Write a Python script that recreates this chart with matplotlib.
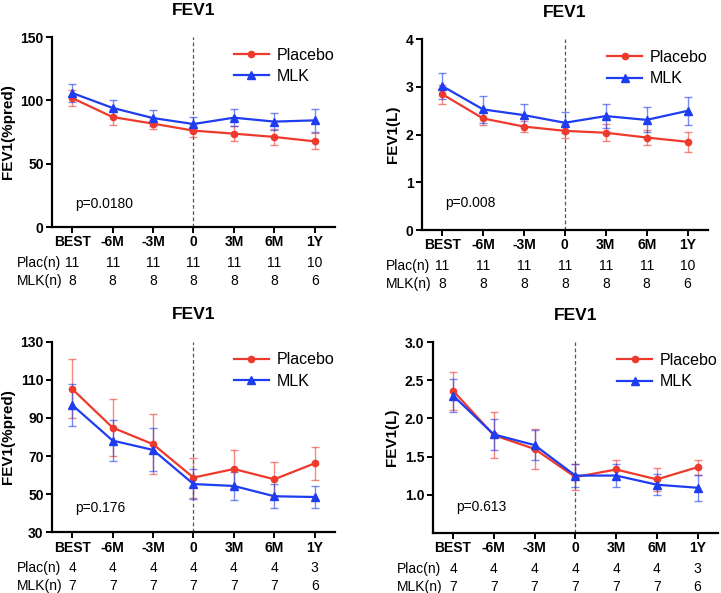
import matplotlib
matplotlib.use("Agg")
import matplotlib.pyplot as plt
import matplotlib.transforms as mtransforms

plt.rcParams["font.family"] = ["Liberation Sans", "DejaVu Sans"]

timepoints = ["BEST", "-6M", "-3M", "0", "3M", "6M", "1Y"]

# top row: n per group
plac_n_top = [11, 11, 11, 11, 11, 11, 10]
mlk_n_top = [8, 8, 8, 8, 8, 8, 6]
# bottom row: n per group
plac_n_bot = [4, 4, 4, 4, 4, 4, 3]
mlk_n_bot = [7, 7, 7, 7, 7, 7, 6]

# panel A: FEV1 %pred (top)
a_plac = [101.8, 86.8, 81.6, 76.1, 73.7, 71.1, 67.6]
a_plac_err = [6.5, 6.0, 4.5, 5.4, 6.0, 6.0, 6.3]
a_mlk = [105.8, 94.0, 86.0, 81.3, 86.3, 83.2, 84.2]
a_mlk_err = [7.4, 6.5, 6.6, 5.5, 6.9, 6.8, 9.3]

# panel B: FEV1 litres (top)
b_plac = [2.85, 2.34, 2.17, 2.08, 2.04, 1.94, 1.85]
b_plac_err = [0.20, 0.14, 0.11, 0.14, 0.18, 0.16, 0.21]
b_mlk = [3.02, 2.53, 2.41, 2.25, 2.39, 2.31, 2.50]
b_mlk_err = [0.27, 0.28, 0.23, 0.22, 0.25, 0.26, 0.29]

# panel C: FEV1 %pred (bottom)
c_plac = [105.2, 84.9, 76.2, 58.7, 63.2, 57.8, 66.2]
c_plac_err = [15.5, 15.0, 15.7, 10.5, 9.8, 9.3, 8.7]
c_mlk = [96.8, 78.1, 73.2, 55.3, 54.3, 48.9, 48.5]
c_mlk_err = [11.0, 10.8, 11.3, 7.9, 7.5, 6.3, 6.0]

# panel D: FEV1 litres (bottom)
d_plac = [2.365, 1.78, 1.60, 1.23, 1.33, 1.20, 1.36]
d_plac_err = [0.25, 0.30, 0.26, 0.17, 0.12, 0.15, 0.10]
d_mlk = [2.30, 1.79, 1.65, 1.25, 1.25, 1.13, 1.09]
d_mlk_err = [0.22, 0.20, 0.20, 0.15, 0.15, 0.14, 0.17]

RED = "#EE3A2C"
BLUE = "#1E3CF0"

fig = plt.figure(figsize=(7.21, 5.93), dpi=100)


def panel(rect, plac, plac_err, mlk, mlk_err, ylim, yticks, ytl, ylabel,
          pval, plac_n, mlk_n, py):
    ax = fig.add_axes(rect)
    x = list(range(len(timepoints)))
    ax.axvline(3, color="#555555", lw=0.9, ls=(0, (3, 2)), zorder=1)
    ax.errorbar(x, plac, yerr=plac_err, fmt="none", ecolor=RED, elinewidth=1,
                capsize=3, capthick=1, alpha=0.6, zorder=2)
    ax.errorbar(x, mlk, yerr=mlk_err, fmt="none", ecolor=BLUE, elinewidth=1,
                capsize=3, capthick=1, alpha=0.6, zorder=2)
    ax.plot(x, plac, color=RED, lw=1.6, marker="o", ms=4.5, label="Placebo", zorder=3)
    ax.plot(x, mlk, color=BLUE, lw=1.6, marker="^", ms=5.5, label="MLK", zorder=4)

    ax.set_xlim(-0.5, 6.5)
    ax.set_ylim(*ylim)
    ax.set_yticks(yticks)
    ax.set_yticklabels(ytl, fontweight="bold", fontsize=10)
    ax.set_xticks(x)
    ax.set_xticklabels(timepoints, fontweight="bold", fontsize=10)
    ax.set_ylabel(ylabel, fontweight="bold", fontsize=11, labelpad=4)
    ax.set_title("FEV1", fontweight="bold", fontsize=12.5, pad=16)

    for s in ["top", "right"]:
        ax.spines[s].set_visible(False)
    for s in ["left", "bottom"]:
        ax.spines[s].set_linewidth(1.6)
    ax.tick_params(width=1.4, length=4, pad=2)

    ax.legend(loc="upper right", bbox_to_anchor=(1.05, 1.02), frameon=False,
              fontsize=11.5, handlelength=2.2, handletextpad=0.5, labelspacing=0.4)

    trans = mtransforms.blended_transform_factory(ax.transData, ax.transAxes)
    ax.text(0.07, py, pval, transform=trans, fontsize=10, va="center", ha="left")

    for row, (lab, vals) in enumerate([("Plac(n)", plac_n), ("MLK(n)", mlk_n)]):
        off = -36 - row * 18
        ax.annotate(lab, xy=(-1.38, 0), xycoords=trans, xytext=(0, off),
                    textcoords="offset pixels", ha="left", va="center",
                    fontsize=10, annotation_clip=False)
        for i, v in enumerate(vals):
            ax.annotate(str(v), xy=(i, 0), xycoords=trans, xytext=(0, off),
                        textcoords="offset pixels", ha="center", va="center",
                        fontsize=10, annotation_clip=False)
    return ax


panel([0.0721, 0.6172, 0.3925, 0.3204], a_plac, a_plac_err, a_mlk, a_mlk_err,
      (0, 150), [0, 50, 100, 150], ["0", "50", "100", "150"], "FEV1(%pred)",
      "p=0.0180", plac_n_top, mlk_n_top, 0.12)
panel([0.5849, 0.6121, 0.3971, 0.3216], b_plac, b_plac_err, b_mlk, b_mlk_err,
      (0, 4), [0, 1, 2, 3, 4], ["0", "1", "2", "3", "4"], "FEV1(L)",
      "p=0.008", plac_n_top, mlk_n_top, 0.14)
panel([0.0721, 0.1024, 0.3925, 0.3214], c_plac, c_plac_err, c_mlk, c_mlk_err,
      (30, 130), [30, 50, 70, 90, 110, 130], ["30", "50", "70", "90", "110", "130"],
      "FEV1(%pred)", "p=0.176", plac_n_bot, mlk_n_bot, 0.127)
panel([0.6001, 0.1017, 0.3957, 0.3211], d_plac, d_plac_err, d_mlk, d_mlk_err,
      (0.5, 3.0), [1.0, 1.5, 2.0, 2.5, 3.0], ["1.0", "1.5", "2.0", "2.5", "3.0"],
      "FEV1(L)", "p=0.613", plac_n_bot, mlk_n_bot, 0.137)

fig.savefig("out.png", dpi=100)
